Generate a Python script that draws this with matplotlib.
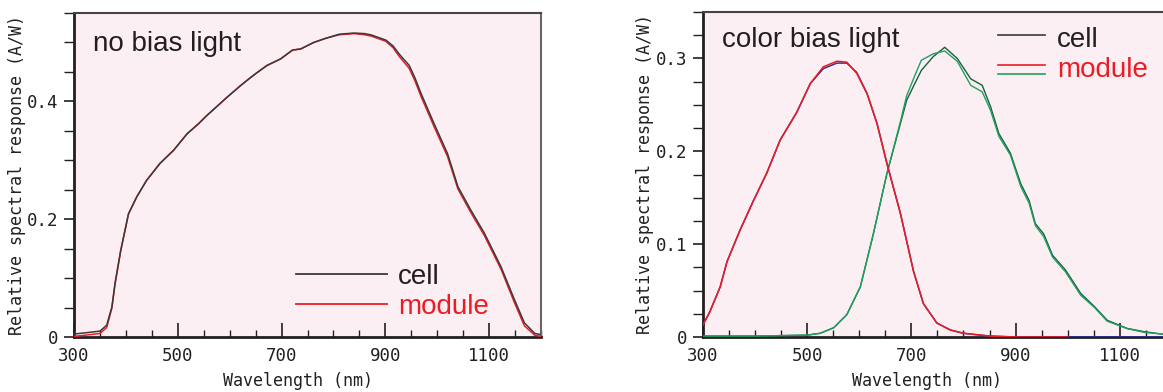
import matplotlib
matplotlib.use("Agg")
import matplotlib.pyplot as plt
from matplotlib.ticker import MultipleLocator, FixedLocator, FuncFormatter

# ---------------- data ----------------
wl_a = [300, 331, 350, 363, 373, 379, 390, 405, 421, 440,
        466, 492, 518, 540, 556, 580, 595, 620, 634, 650,
        672, 698, 721, 737, 762, 785, 811, 840, 860, 872,
        901, 915, 927, 946, 957, 969, 994, 1020, 1040, 1065,
        1091, 1123, 1149, 1168, 1188, 1200]
cell_a = [0.005, 0.008, 0.010, 0.020, 0.051, 0.091, 0.147, 0.209, 0.238, 0.266,
          0.295, 0.317, 0.345, 0.362, 0.376, 0.395, 0.407, 0.426, 0.436, 0.447,
          0.461, 0.472, 0.487, 0.489, 0.500, 0.507, 0.514, 0.516, 0.515, 0.513,
          0.504, 0.494, 0.480, 0.461, 0.440, 0.413, 0.362, 0.311, 0.255, 0.215,
          0.176, 0.119, 0.063, 0.024, 0.006, 0.004]
module_a = [0.001, 0.004, 0.006, 0.016, 0.049, 0.089, 0.146, 0.209, 0.238, 0.266,
            0.295, 0.317, 0.345, 0.362, 0.376, 0.395, 0.407, 0.426, 0.436, 0.447,
            0.461, 0.472, 0.487, 0.489, 0.500, 0.507, 0.513, 0.515, 0.513, 0.511,
            0.502, 0.491, 0.476, 0.456, 0.435, 0.408, 0.357, 0.306, 0.251, 0.211,
            0.172, 0.115, 0.058, 0.019, 0.003, 0.001]

wl_top = [300, 313, 333, 346, 371, 397, 422, 448, 480, 506, 531, 557, 576, 595, 615,
          634, 653, 679, 704, 723, 749, 775, 800, 850, 900, 1000, 1100, 1183]
top_cell = [0.013, 0.027, 0.054, 0.081, 0.115, 0.147, 0.176, 0.212, 0.242, 0.273, 0.289,
            0.295, 0.295, 0.285, 0.262, 0.230, 0.187, 0.133, 0.071, 0.036, 0.015, 0.0075,
            0.004, 0.001, 0.0, 0.0, 0.0, 0.0]
wl_top_m = wl_top[:26]
top_module = [0.013, 0.027, 0.054, 0.081, 0.115, 0.147, 0.176, 0.212, 0.242, 0.273, 0.291,
              0.297, 0.296, 0.284, 0.262, 0.230, 0.187, 0.133, 0.071, 0.036, 0.015, 0.0075,
              0.004, 0.001, 0.0, 0.0]

wl_bot = [300, 400, 500, 525, 551, 576, 602, 627, 653, 679, 691, 704, 719, 742, 764, 788,
          814, 836, 852, 868, 890, 910, 926, 938, 954, 971, 996, 1025, 1051, 1076, 1114,
          1147, 1183]
bot_cell = [0.001, 0.001, 0.002, 0.004, 0.010, 0.024, 0.054, 0.111, 0.176, 0.230, 0.255,
            0.270, 0.287, 0.302, 0.312, 0.300, 0.278, 0.271, 0.248, 0.219, 0.198, 0.165,
            0.147, 0.122, 0.111, 0.088, 0.072, 0.047, 0.033, 0.018, 0.0093, 0.0057, 0.003]
bot_module = [0.001, 0.001, 0.002, 0.004, 0.010, 0.024, 0.054, 0.111, 0.176, 0.232, 0.260,
              0.278, 0.298, 0.305, 0.308, 0.297, 0.271, 0.264, 0.244, 0.216, 0.196, 0.162,
              0.144, 0.120, 0.108, 0.086, 0.070, 0.045, 0.032, 0.017, 0.009, 0.005, 0.003]

xticks = [300, 500, 700, 900, 1100]
yticks_a = [0, 0.2, 0.4]
yticks_b = [0, 0.1, 0.2, 0.3]
title_a = "no bias light"
title_b = "color bias light"
xlabel = "Wavelength (nm)"
ylabel = "Relative spectral response (A/W)"
leg_labels = ["cell", "module"]

# ---------------- style ----------------
BG = "#FCEFF3"
DARK = "#231F20"
BLACK_LINE = "#3A3A3A"
RED = "#ED1C24"
BLUE = "#2E3192"
GREEN_D = "#17603F"
GREEN_L = "#1FA060"
MONO = "DejaVu Sans Mono"
SANS = "Liberation Sans"

fig = plt.figure(figsize=(11.63, 3.92), dpi=100)
W, H = 1163, 392


def make_axes(left_px, right_px, top_px, bottom_px):
    return fig.add_axes([left_px / W, (H - bottom_px) / H,
                         (right_px - left_px) / W, (bottom_px - top_px) / H])


def fmt(v, pos):
    if abs(v) < 1e-9:
        return "0"
    if v >= 100:
        return f"{v:.0f}"
    return f"{v:.1f}"


def style(ax, ymax, yticks, ymin, xmax, show_right=True):
    ax.set_facecolor(BG)
    ax.set_xlim(300, xmax)
    ax.set_ylim(0, ymax)
    ax.xaxis.set_major_locator(FixedLocator(xticks))
    ax.xaxis.set_minor_locator(MultipleLocator(50))
    ax.yaxis.set_major_locator(FixedLocator(yticks))
    ax.yaxis.set_minor_locator(MultipleLocator(ymin))
    ax.xaxis.set_major_formatter(FuncFormatter(fmt))
    ax.yaxis.set_major_formatter(FuncFormatter(fmt))
    ax.tick_params(axis="x", which="major", direction="in", length=10, width=1.2,
                   color=DARK, pad=7, labelsize=12.5)
    ax.tick_params(axis="x", which="minor", direction="in", length=5, width=1.0, color=DARK)
    ax.tick_params(axis="y", which="major", direction="out", length=7, width=1.2,
                   color=DARK, pad=4, labelsize=12.5)
    ax.tick_params(axis="y", which="minor", direction="out", length=7, width=1.0, color=DARK)
    for lab in ax.get_xticklabels() + ax.get_yticklabels():
        lab.set_fontfamily(MONO)
        lab.set_color(DARK)
    ax.spines["left"].set_linewidth(2.0)
    ax.spines["bottom"].set_linewidth(2.0)
    ax.spines["left"].set_color(DARK)
    ax.spines["bottom"].set_color(DARK)
    ax.spines["top"].set_linewidth(1.5)
    ax.spines["top"].set_color("#444444")
    ax.spines["right"].set_linewidth(1.5)
    ax.spines["right"].set_color("#666666")
    ax.spines["right"].set_visible(show_right)
    ax.set_xlabel(xlabel, fontfamily=MONO, fontsize=12, color=DARK)
    ax.set_ylabel(ylabel, fontfamily=MONO, fontsize=12, color=DARK)


def axfrac(lpx, rpx, tpx, bpx, x, y):
    return (x - lpx) / (rpx - lpx), (bpx - y) / (bpx - tpx)


# ---------------- left panel ----------------
L, R, T, B = 74, 541, 13, 337
ax1 = make_axes(L, R, T, B)
style(ax1, 0.55, yticks_a, 0.05, 1200)
ax1.plot(wl_a, module_a, color=RED, lw=1.1, zorder=3)
ax1.plot(wl_a, cell_a, color=BLACK_LINE, lw=1.1, zorder=4)
ax1.text(*axfrac(L, R, T, B, 93, 51), title_a, transform=ax1.transAxes,
         fontfamily=SANS, fontsize=20, color=DARK, va="baseline", ha="left")
ax1.xaxis.set_label_coords((298 - L) / (R - L), -35 / (B - T))
ax1.yaxis.set_label_coords(-48 / (R - L), 0.5)

x0, y0 = axfrac(L, R, T, B, 296, 274)
x1, _ = axfrac(L, R, T, B, 387, 274)
_, y1 = axfrac(L, R, T, B, 296, 304)
ax1.plot([x0, x1], [y0, y0], color=BLACK_LINE, lw=1.3, transform=ax1.transAxes)
ax1.plot([x0, x1], [y1, y1], color=RED, lw=1.3, transform=ax1.transAxes)
tx, ty0 = axfrac(L, R, T, B, 398, 284)
_, ty1 = axfrac(L, R, T, B, 398, 314)
ax1.text(tx, ty0, leg_labels[0], transform=ax1.transAxes, fontfamily=SANS, fontsize=20,
         color=DARK, va="baseline")
ax1.text(tx, ty1, leg_labels[1], transform=ax1.transAxes, fontfamily=SANS, fontsize=20,
         color=RED, va="baseline")

# ---------------- right panel ----------------
L, R, T, B = 703, 1163, 12, 337
ax2 = make_axes(L, R, T, B)
style(ax2, 0.35, yticks_b, 0.025, 1183, show_right=False)
ax2.plot(wl_bot, bot_cell, color=GREEN_D, lw=1.0, zorder=3)
ax2.plot(wl_bot, bot_module, color=GREEN_L, lw=1.0, zorder=3)
ax2.plot(wl_top, top_cell, color=BLUE, lw=1.1, zorder=4)
ax2.plot(wl_top_m, top_module, color=RED, lw=1.1, zorder=5)
ax2.text(*axfrac(L, R, T, B, 722, 47), title_b, transform=ax2.transAxes,
         fontfamily=SANS, fontsize=20, color=DARK, va="baseline", ha="left")
ax2.xaxis.set_label_coords((927 - L) / (R - L), -35 / (B - T))
ax2.yaxis.set_label_coords(-49 / (R - L), 0.5)

lx0, ly0 = axfrac(L, R, T, B, 998, 35)
lx1, _ = axfrac(L, R, T, B, 1045, 35)
_, ly1 = axfrac(L, R, T, B, 998, 65)
_, ly2 = axfrac(L, R, T, B, 998, 74)
ax2.plot([lx0, lx1], [ly0, ly0], color=BLACK_LINE, lw=1.2, transform=ax2.transAxes)
ax2.plot([lx0, lx1], [ly1, ly1], color=RED, lw=1.2, transform=ax2.transAxes)
ax2.plot([lx0, lx1], [ly2, ly2], color=GREEN_L, lw=1.2, transform=ax2.transAxes)
tx, ty0 = axfrac(L, R, T, B, 1057, 47)
_, ty1 = axfrac(L, R, T, B, 1057, 77)
ax2.text(tx, ty0, leg_labels[0], transform=ax2.transAxes, fontfamily=SANS, fontsize=20,
         color=DARK, va="baseline")
ax2.text(tx, ty1, leg_labels[1], transform=ax2.transAxes, fontfamily=SANS, fontsize=20,
         color=RED, va="baseline")

fig.savefig("out.png", dpi=100, facecolor="white")
